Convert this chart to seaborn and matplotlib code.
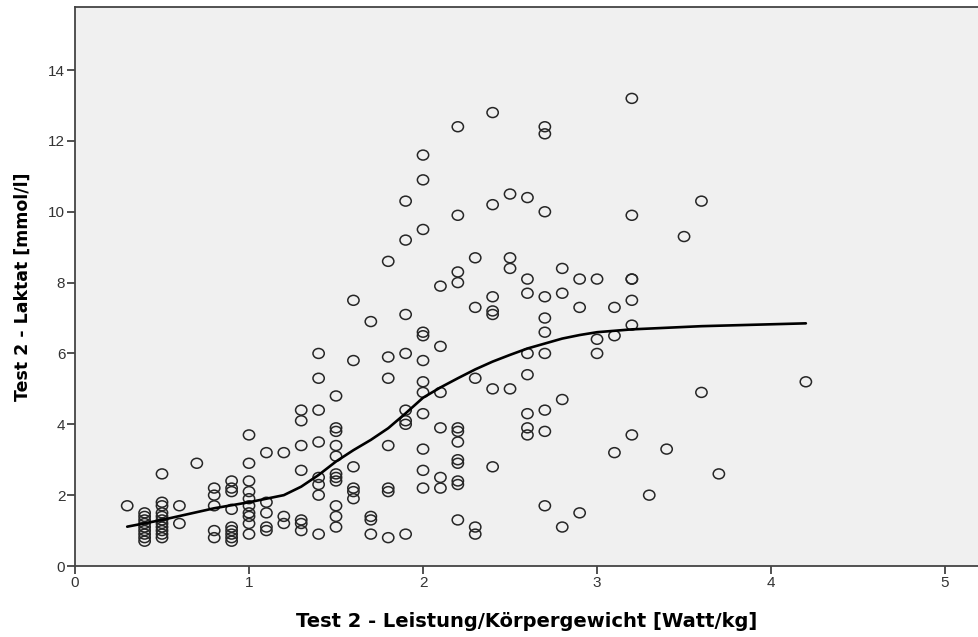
import matplotlib
matplotlib.use("Agg")
import matplotlib.pyplot as plt
from matplotlib.path import Path
from matplotlib.transforms import Affine2D
import seaborn as sns
import pandas as pd

# Scatter data: power/body weight [Watt/kg] and lactate [mmol/l]
watt_kg = (
    [0.3]
    + [0.4] * 9
    + [0.5] * 11
    + [0.6] * 2
    + [0.7]
    + [0.8] * 5
    + [0.9] * 9
    + [1.0] * 10
    + [1.1] * 5
    + [1.2] * 3
    + [1.3] * 7
    + [1.4] * 8
    + [1.5] * 11
    + [1.6] * 6
    + [1.7] * 4
    + [1.8] * 7
    + [1.9] * 8
    + [2.0] * 12
    + [2.1] * 6
    + [2.2] * 12
    + [2.3] * 5
    + [2.4] * 7
    + [2.5] * 4
    + [2.6] * 8
    + [2.7] * 10
    + [2.8] * 4
    + [2.9] * 3
    + [3.0] * 3
    + [3.1] * 3
    + [3.2] * 7
    + [3.3, 3.4, 3.5, 3.6, 3.6, 3.7, 4.2]
)
laktat = (
    [1.7]
    + [1.5, 1.4, 1.3, 1.2, 1.1, 1.0, 0.9, 0.8, 0.7]
    + [2.6, 1.8, 1.7, 1.5, 1.4, 1.3, 1.2, 1.1, 1.0, 0.9, 0.8]
    + [1.7, 1.2]
    + [2.9]
    + [2.2, 2.0, 1.7, 1.0, 0.8]
    + [2.4, 2.2, 2.1, 1.6, 1.1, 1.0, 0.9, 0.8, 0.7]
    + [3.7, 2.9, 2.4, 2.1, 1.9, 1.7, 1.5, 1.4, 1.2, 0.9]
    + [3.2, 1.8, 1.5, 1.1, 1.0]
    + [3.2, 1.4, 1.2]
    + [4.4, 4.1, 3.4, 2.7, 1.3, 1.2, 1.0]
    + [6.0, 5.3, 4.4, 3.5, 2.5, 2.3, 2.0, 0.9]
    + [4.8, 3.9, 3.8, 3.4, 3.1, 2.6, 2.5, 2.4, 1.7, 1.4, 1.1]
    + [7.5, 5.8, 2.8, 2.2, 2.1, 1.9]
    + [6.9, 1.4, 1.3, 0.9]
    + [8.6, 5.9, 5.3, 3.4, 2.2, 2.1, 0.8]
    + [10.3, 9.2, 7.1, 6.0, 4.4, 4.1, 4.0, 0.9]
    + [11.6, 10.9, 9.5, 6.6, 6.5, 5.8, 5.2, 4.9, 4.3, 3.3, 2.7, 2.2]
    + [7.9, 6.2, 4.9, 3.9, 2.5, 2.2]
    + [12.4, 9.9, 8.3, 8.0, 3.9, 3.8, 3.5, 3.0, 2.9, 2.4, 2.3, 1.3]
    + [8.7, 7.3, 5.3, 1.1, 0.9]
    + [12.8, 10.2, 7.6, 7.2, 7.1, 5.0, 2.8]
    + [10.5, 8.7, 8.4, 5.0]
    + [10.4, 8.1, 7.7, 6.0, 5.4, 4.3, 3.9, 3.7]
    + [12.4, 12.2, 10.0, 7.6, 7.0, 6.6, 6.0, 4.4, 3.8, 1.7]
    + [8.4, 7.7, 4.7, 1.1]
    + [8.1, 7.3, 1.5]
    + [8.1, 6.4, 6.0]
    + [7.3, 6.5, 3.2]
    + [13.2, 9.9, 8.1, 8.1, 7.5, 6.8, 3.7]
    + [2.0, 3.3, 9.3, 10.3, 4.9, 2.6, 5.2]
)

# Smoothed (loess) fit line
fit_x = [0.3, 0.5, 0.8, 1.0, 1.2, 1.3, 1.4, 1.5, 1.6, 1.7, 1.8, 1.9, 2.0,
         2.1, 2.2, 2.3, 2.4, 2.5, 2.6, 2.7, 2.8, 2.9, 3.0, 3.2, 3.6, 4.2]
fit_y = [1.11, 1.30, 1.63, 1.80, 2.00, 2.24, 2.57, 2.95, 3.27, 3.56, 3.89,
         4.31, 4.75, 5.04, 5.30, 5.55, 5.77, 5.96, 6.14, 6.28, 6.42, 6.52,
         6.60, 6.68, 6.77, 6.85]

x_ticks = [0, 1, 2, 3, 4, 5]
y_ticks = [0, 2, 4, 6, 8, 10, 12, 14]

x_label = "Test 2 - Leistung/Körpergewicht [Watt/kg]"
y_label = "Test 2 - Laktat [mmol/l]"

sns.set_theme(style="white")
plt.rcParams["font.family"] = ["DejaVu Sans"]

df = pd.DataFrame({"x": watt_kg, "y": laktat})
fit_df = pd.DataFrame({"x": fit_x, "y": fit_y})

# slightly flattened open circle, as in the original
ellipse = Path.unit_circle().transformed(Affine2D().scale(1.0, 0.88))

fig = plt.figure(figsize=(9.79, 6.37), dpi=100)
ax = fig.add_axes([75 / 979, 71 / 637, 904 / 979, 559 / 637])
ax.set_facecolor("#f0f0f0")

sns.scatterplot(data=df, x="x", y="y", ax=ax, marker=ellipse, s=66,
                facecolor="none", edgecolor="#262626", linewidth=1.1,
                zorder=3)
sns.lineplot(data=fit_df, x="x", y="y", ax=ax, color="black", lw=1.9,
             estimator=None, sort=True, zorder=4)

ax.set_xlim(0, 5.195)
ax.set_ylim(0, 15.78)
ax.set_xticks(x_ticks)
ax.set_yticks(y_ticks)
ax.set_xticklabels([str(t) for t in x_ticks], fontfamily="Liberation Sans",
                   fontsize=11, color="#333333")
ax.set_yticklabels([str(t) for t in y_ticks], fontfamily="Liberation Sans",
                   fontsize=11, color="#333333")
ax.tick_params(axis="both", direction="out", length=6, width=1.2,
               color="#333333", pad=1, bottom=True, left=True)

for side in ["left", "bottom", "top"]:
    ax.spines[side].set_visible(True)
    ax.spines[side].set_color("#444444")
    ax.spines[side].set_linewidth(1.3)
ax.spines["right"].set_visible(False)

ax.set_xlabel(x_label, fontsize=14, fontweight="bold", color="black",
              labelpad=16)
ax.set_ylabel(y_label, fontsize=12.5, fontweight="bold", color="black",
              labelpad=12)
ax.grid(False)

fig.savefig("out.png", dpi=100, facecolor="white")
